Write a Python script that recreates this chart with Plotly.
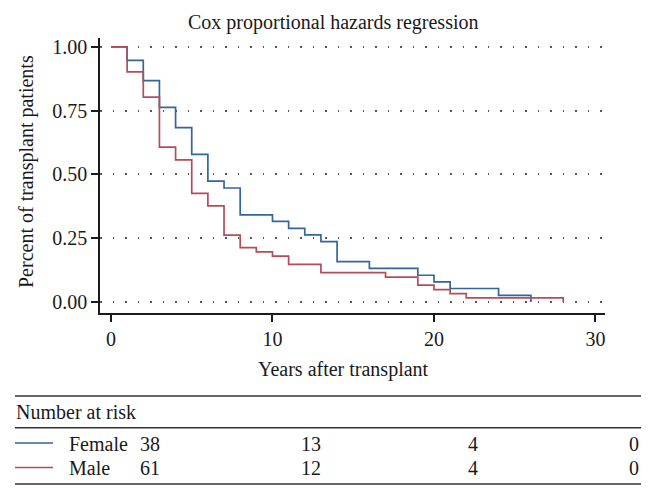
import plotly.graph_objects as go

# ---------------- data ----------------
female_t = [0, 1, 2, 3, 4, 5, 6, 7, 8, 10, 11, 12, 13, 14, 16, 19, 20, 21, 24, 26]
female_s = [1.0, 0.947, 0.868, 0.763, 0.684, 0.579, 0.474, 0.447, 0.342, 0.316,
            0.289, 0.263, 0.237, 0.158, 0.132, 0.105, 0.079, 0.053, 0.026, 0.0]
male_t = [0, 1, 2, 3, 4, 5, 6, 7, 8, 9, 10, 11, 13, 17, 19, 20, 21, 22, 28]
male_s = [1.0, 0.902, 0.803, 0.607, 0.557, 0.426, 0.377, 0.262, 0.213, 0.197,
          0.180, 0.148, 0.115, 0.098, 0.066, 0.049, 0.033, 0.016, 0.0]
risk_times = [0, 10, 20, 30]
female_risk = [38, 13, 4, 0]
male_risk = [61, 12, 4, 0]
y_ticks = [0, 0.25, 0.5, 0.75, 1.0]
y_ticktext = ["0.00", "0.25", "0.50", "0.75", "1.00"]
x_ticks = [0, 10, 20, 30]

# ---------------- layout helpers ----------------
# the page body has an 8px default margin, so the figure is drawn 8px smaller
OFF = 8
W, H = 656 - OFF, 499 - OFF
L, R, T, B = 100 - OFF, 605 - OFF, 38 - OFF, 313 - OFF
FONT = "Liberation Serif"
FS = 20
BLUE = "#35659a"
RED = "#b44d57"
INK = "#1a1a1a"


def px(x):
    # x given in window pixels
    return (x - OFF - L) / (R - L)


def py(y):
    return (B - (y - OFF)) / (B - T)


fig = go.Figure()
fig.add_trace(go.Scatter(x=female_t, y=female_s, mode="lines", line_shape="hv",
                         line=dict(color=BLUE, width=1.7), name="Female"))
fig.add_trace(go.Scatter(x=male_t, y=male_s, mode="lines", line_shape="hv",
                         line=dict(color=RED, width=1.7), name="Male"))

fig.update_layout(
    width=W, height=H,
    margin=dict(l=L, r=W - R, t=T, b=H - B),
    paper_bgcolor="white", plot_bgcolor="white",
    showlegend=False,
    font=dict(family=FONT, size=FS, color=INK),
    xaxis=dict(range=[-0.68, 30.59], tickvals=x_ticks, ticks="outside", ticklen=7,
               tickwidth=1.5, tickcolor=INK, showline=True, linecolor=INK, linewidth=1.5,
               showgrid=False, zeroline=False, tickfont=dict(size=FS)),
    yaxis=dict(range=[-0.043, 1.035], tickvals=y_ticks, ticktext=y_ticktext,
               ticks="outside", ticklen=7, tickwidth=1.5, tickcolor=INK,
               showline=True, linecolor=INK, linewidth=1.5,
               showgrid=True, gridcolor="#555555", gridwidth=1.5, griddash="1.5px,11px",
               zeroline=False, tickfont=dict(size=FS)),
)

ann = []
ann.append(dict(text="Cox proportional hazards regression", x=px(333), y=py(22),
                xref="paper", yref="paper", xanchor="center", yanchor="middle",
                showarrow=False, font=dict(size=FS)))
ann.append(dict(text="Years after transplant", x=px(343), y=py(369),
                xref="paper", yref="paper", xanchor="center", yanchor="middle",
                showarrow=False, font=dict(size=FS)))
ann.append(dict(text="Percent of transplant patients", x=px(26), y=py(172),
                xref="paper", yref="paper", xanchor="center", yanchor="middle",
                textangle=-90, showarrow=False, font=dict(size=FS)))
ann.append(dict(text="Number at risk", x=px(14), y=py(411.5),
                xref="paper", yref="paper", xanchor="left", yanchor="middle",
                showarrow=False, font=dict(size=FS)))
ann.append(dict(text="Female", x=px(67), y=py(443.5),
                xref="paper", yref="paper", xanchor="left", yanchor="middle",
                showarrow=False, font=dict(size=FS)))
ann.append(dict(text="Male", x=px(67), y=py(468),
                xref="paper", yref="paper", xanchor="left", yanchor="middle",
                showarrow=False, font=dict(size=FS)))
for t, n in zip(risk_times, female_risk):
    ann.append(dict(text=str(n), x=t, xref="x", xshift=39, y=py(443.5), yref="paper",
                    xanchor="center", yanchor="middle", showarrow=False,
                    font=dict(size=FS)))
for t, n in zip(risk_times, male_risk):
    ann.append(dict(text=str(n), x=t, xref="x", xshift=39, y=py(468), yref="paper",
                    xanchor="center", yanchor="middle", showarrow=False,
                    font=dict(size=FS)))
fig.update_layout(annotations=ann)

shapes = []
for yy in (396, 427.7, 484):
    shapes.append(dict(type="line", xref="paper", yref="paper",
                       x0=px(15), x1=px(641), y0=py(yy), y1=py(yy),
                       line=dict(color="#333333", width=1.5)))
shapes.append(dict(type="line", xref="paper", yref="paper", x0=px(15), x1=px(53),
                   y0=py(443), y1=py(443), line=dict(color=BLUE, width=1.5)))
shapes.append(dict(type="line", xref="paper", yref="paper", x0=px(15), x1=px(53),
                   y0=py(467.5), y1=py(467.5), line=dict(color=RED, width=1.5)))
fig.update_layout(shapes=shapes)

fig.write_html("out.html")
